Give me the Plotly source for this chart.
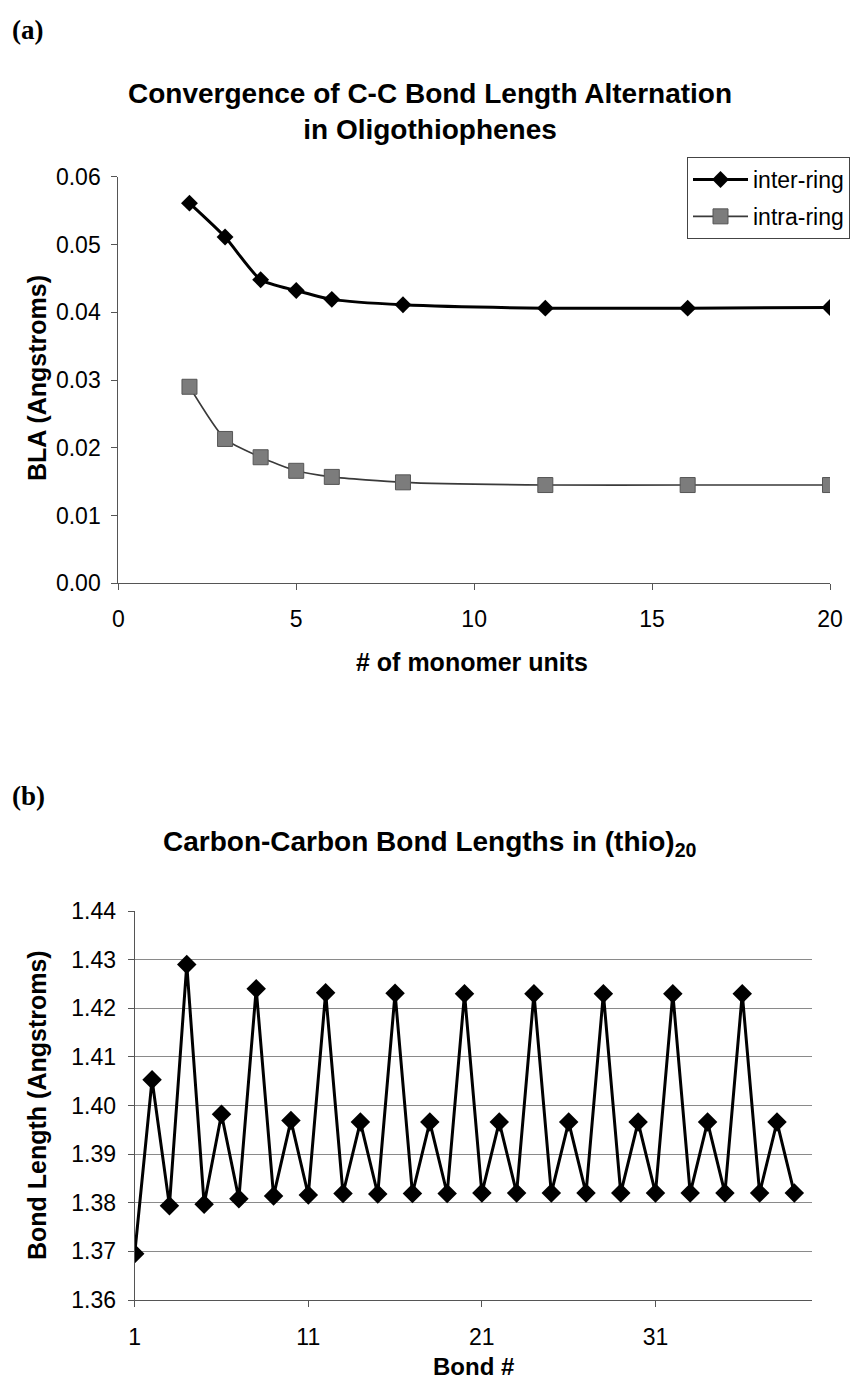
import plotly.graph_objects as go

# ---- Data ----
n_units = [2, 3, 4, 5, 6, 8, 12, 16, 20]
inter_ring = [0.0561, 0.0511, 0.0448, 0.0432, 0.0419, 0.0411, 0.0406, 0.0406, 0.0407]
intra_ring = [0.0290, 0.0213, 0.0186, 0.0166, 0.0157, 0.0149, 0.0145, 0.0145, 0.0145]

bond_num = list(range(1, 40))
bond_len = [1.3695, 1.4053, 1.3794, 1.4290, 1.3797, 1.3982, 1.3808, 1.4240,
            1.3814, 1.3969, 1.3816, 1.4232, 1.3819, 1.3966, 1.3818, 1.4231,
            1.3819, 1.3966, 1.3819, 1.4230, 1.3820, 1.3966, 1.3820, 1.4230,
            1.3820, 1.3966, 1.3820, 1.4230, 1.3820, 1.3966, 1.3820, 1.4230,
            1.3820, 1.3966, 1.3820, 1.4230, 1.3820, 1.3966, 1.3820]

top_yticks = [0.00, 0.01, 0.02, 0.03, 0.04, 0.05, 0.06]
top_xticks = [0, 5, 10, 15, 20]
bot_yticks = [1.36, 1.37, 1.38, 1.39, 1.40, 1.41, 1.42, 1.43, 1.44]
bot_xticks = [1, 11, 21, 31]

W, H = 857, 1386
def px(x): return x / W
def py(y): return 1 - y / H

SANS = "Arial, Liberation Sans, sans-serif"
SERIF = "Times New Roman, Liberation Serif, serif"

fig = go.Figure()

fig.add_trace(go.Scatter(
    x=n_units, y=inter_ring, name="inter-ring", mode="lines+markers",
    legendgroup="a",
    line=dict(color="black", width=3, shape="spline", smoothing=0.6),
    marker=dict(symbol="diamond", size=13, color="black"),
    xaxis="x", yaxis="y"))
fig.add_trace(go.Scatter(
    x=n_units, y=intra_ring, name="intra-ring", mode="lines+markers",
    legendgroup="b",
    line=dict(color="#3a3a3a", width=1.6, shape="spline", smoothing=0.6),
    marker=dict(symbol="square", size=15, color="#7c7c7c",
                line=dict(color="#555555", width=1)),
    xaxis="x", yaxis="y"))

fig.add_trace(go.Scatter(
    x=bond_num, y=bond_len, mode="lines+markers", showlegend=False,
    line=dict(color="black", width=3),
    marker=dict(symbol="diamond", size=15, color="black"),
    xaxis="x2", yaxis="y2"))

tickfont = dict(family=SANS, size=23, color="black")
axtitle = dict(family=SANS, size=25, color="black")

common = dict(ticks="outside", ticklen=6, tickcolor="#555", zeroline=False,
              showline=True, linecolor="#555", linewidth=1, tickfont=tickfont,
              automargin=False)

fig.update_layout(
    width=W, height=H, margin=dict(l=0, r=0, t=0, b=0),
    paper_bgcolor="white", plot_bgcolor="white",
    xaxis=dict(domain=[px(118.3), px(830)], range=[0, 20], tickvals=top_xticks,
               showgrid=False, anchor="y", ticklabelstandoff=9, **common),
    yaxis=dict(domain=[py(583.3), py(176.7)], range=[0, 0.06], tickvals=top_yticks,
               tickformat=".2f", showgrid=False, anchor="x",
               ticklabelstandoff=6, **common),
    xaxis2=dict(domain=[px(134.7), px(811.7)], range=[1, 40], tickvals=bot_xticks,
                showgrid=False, anchor="y2", ticklabelstandoff=10, **common),
    yaxis2=dict(domain=[py(1300), py(911)], range=[1.36, 1.44], tickvals=bot_yticks,
                tickformat=".2f", showgrid=True, gridcolor="#8a8a8a", gridwidth=1,
                anchor="x2", ticklabelstandoff=7, **common),
    legend=dict(x=px(850), y=py(157), xanchor="right", yanchor="top",
                bordercolor="#444", borderwidth=1, bgcolor="white",
                font=dict(family=SANS, size=23, color="black"),
                tracegroupgap=4, itemwidth=55),
    annotations=[
        dict(text="<b>(a)</b>", x=px(10), y=py(30), xref="paper", yref="paper",
             xanchor="left", yanchor="middle", showarrow=False,
             font=dict(family=SERIF, size=27, color="black")),
        dict(text="<b>Convergence of C-C Bond Length Alternation<br>in Oligothiophenes</b>",
             x=px(430), y=py(112), xref="paper", yref="paper",
             xanchor="center", yanchor="middle", showarrow=False,
             font=dict(family=SANS, size=28, color="black")),
        dict(text="<b>(b)</b>", x=px(10), y=py(796), xref="paper", yref="paper",
             xanchor="left", yanchor="middle", showarrow=False,
             font=dict(family=SERIF, size=27, color="black")),
        dict(text="<b>Carbon-Carbon Bond Lengths in (thio)<sub>20</sub></b>",
             x=px(430), y=py(843), xref="paper", yref="paper",
             xanchor="center", yanchor="middle", showarrow=False,
             font=dict(family=SANS, size=28, color="black")),
        dict(text="<b>BLA (Angstroms)</b>", x=px(37), y=py(378), xref="paper",
             yref="paper", xanchor="center", yanchor="middle", textangle=-90,
             showarrow=False, font=axtitle),
        dict(text="<b># of monomer units</b>", x=px(472), y=py(662), xref="paper",
             yref="paper", xanchor="center", yanchor="middle",
             showarrow=False, font=axtitle),
        dict(text="<b>Bond Length (Angstroms)</b>", x=px(37), y=py(1105), xref="paper",
             yref="paper", xanchor="center", yanchor="middle", textangle=-90,
             showarrow=False, font=axtitle),
        dict(text="<b>Bond #</b>", x=px(473), y=py(1366), xref="paper",
             yref="paper", xanchor="center", yanchor="middle",
             showarrow=False, font=dict(family=SANS, size=24, color="black")),
    ],
)

fig.write_html("out.html", config={"displayModeBar": False},
               post_script="document.body.style.margin='0';document.body.style.padding='0';"
                           "document.documentElement.style.overflow='hidden';")
